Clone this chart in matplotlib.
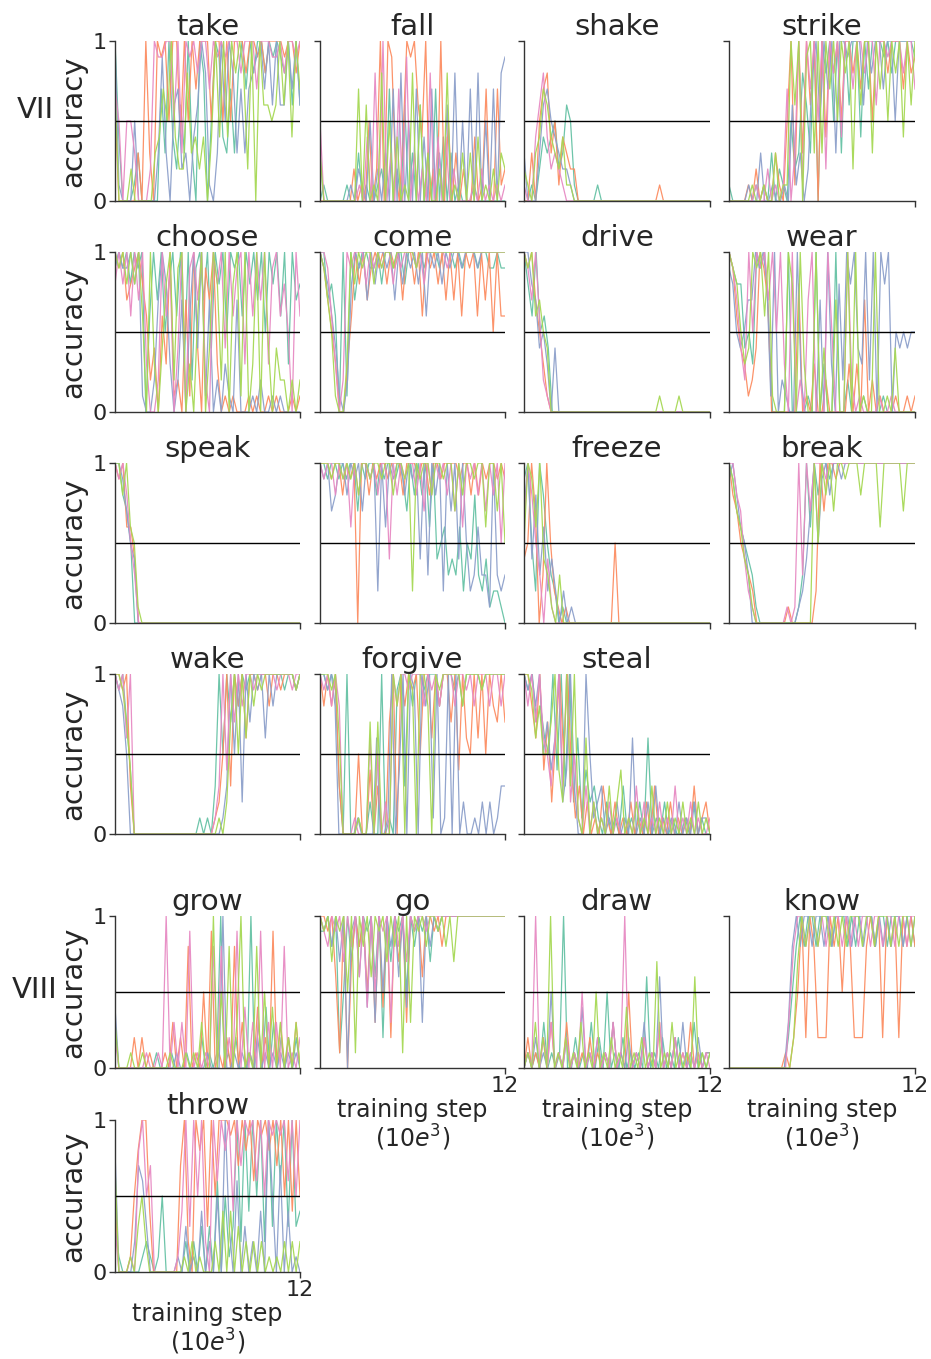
"""Per-verb accuracy curves over training, five seeds per verb."""

import matplotlib

matplotlib.use("Agg")
import matplotlib.pyplot as plt
import numpy as np

# Accuracy per seed, one character per checkpoint, in tenths ("a" = 1.0).
TAKE = [
    "a4000130000073a4263a30a805a943738a7a8aa8a9a98a6a6",
    "60000030a30a9a5aa4a5a7aaa5aa5a5aaa8aa9a8aaaa9aa8a",
    "a100050000039306723046a8103a5a8373789a7a6a66a7a6",
    "7505530002a99aa5a3a9a8aa7a9a9aaa8aaa7aaa99a8aa9a",
    "70002000003475a4228342404a4a4a8a82a0a6656a6a4a7",
]
FALL = [
    "0100000100301001207020603060307040301000100000000",
    "0000000002010502a0a9204a9a64a020a05030200401700712",
    "3000000010210502030708050704070306080507080507089",
    "5000000000104080a0307090302080404020000102010101",
    "3000000000706010805040108060300208010303040102032",
]
SHAKE = [
    "0010243452365100000100000000000000000000000000000",
    "0030578351432200000000000000000000010000000000000",
    "3000367543221000000000000000000000000000000000000",
    "1004684232100000000000000000000000000000000000000",
    "2103476432411000000000000000000000000000000000000",
]
STRIKE = [
    "1000000101030210523863a0a8a5a3a6aa4a7aaa9a8aaaaa9",
    "0000010201003105a1a3a6a0a4a8a5aa8a7aa5aaa8aaa7a89",
    "0000010030010010613028a5a7a3aa9aaa6a8aa7aa5aaaaa",
    "000000010020101703a1a7a5a2a8a4aa7aa8aa6aa9aaa8aa7",
    "0000001001003011a6a09a3a3a7a5a8a2a6aa3a7a5a8a4a6a",
]
CHOOSE = [
    "9a9a8a9a06a7a58a6a3a29a7a4a8a5a9a6a8a7a5a8a6a3a78",
    "a9a789a8624063a12071a4097a3010100010100101000101",
    "9a99a8a10027a8302706a4a1702031070001020010100000",
    "8a8a6a7a3002a6904a09a7a20a8a4a69a3a6a7a39a6850a6",
    "a9a8a8a60a3048a29a0306a04a82a08a1a03a0a404220202",
]
COME = [
    "aa7860a1a79aa99a8aa9aa8aa9a9aaa9aaa9a9aaa9aa99a99",
    "a97530036a8a79a9a8a9a7aa8a6a9a8a7a7a6a9a6a7a5a66",
    "a98641028a9a7a8aa9a7a8a9a8a6a9a8a9aa9aaa9aaaaaaa",
    "aa96302a9aaa8a9a9aa8a9aaa9a8aaaaa9aaaaaaaaaaaaaaa",
    "a9751003a8a9aa8a9aa9aaaaa9aaaaaaaaaaaaaaaaaaaaaaa",
]
DRIVE = [
    "a86a5640000000000000000000000000000000000000000",
    "a9a7531000000000000000000000000000000000000000000",
    "aa87453040000000000000000000000000000000000000000",
    "a97a621000000000000000000000000000000000000000000",
    "a9a6754000000000000000000000000000010000100000000",
]
WEAR = [
    "a988453a9a60000a000010a0300a00200010000100000000",
    "a9643124a9700000008010300200000303070201000100101",
    "9854577a9a81a02100a2000070a3082a8a43a2a0a8a0545455",
    "a9742a5a9a7a5a30a0207a000a5000a20100001001000000",
    "a98534a9a6a1000a80a300a0400700a0a0100a0010400000",
]
SPEAK = [
    "aa8750000000000000000000000000000000000000000000",
    "a9a664000000000000000000000000000000000000000000",
    "aa97540000000000000000000000000000000000000000000",
    "a9a853000000000000000000000000000000000000000000",
    "aa8a651000000000000000000000000000000000000000000",
]
TEAR = [
    "aa9aa9a9aa7a9aa8a9aa9a97a8a8a6a4563436254832412210",
    "aaa9aa8a9a0aa8a9aa9aaa8aaa9aa8aa9aaaa9aa8a8a9aa9a9",
    "a9a78aa8a9a7a9a2a6a9aa8a9a4a3a8a2a7a4a5236331a323",
    "a9aa8a9a6a8aa9a8aa4a8a9aa8a7a8a9a8a7a6a9a8a7a8a5a",
    "aaa9aa9a9a8aa9aa9aa8aa9a2a9aa8aa9aa7a8aa9aa6aa7a5",
]
FREEZE = [
    "9a52a85320100000000000000000000000000000000000000",
    "45a703a5210100000000000050000000000000000000000000",
    "7a4836242020100000000000000000000000000000000000",
    "6a8530410000000000000000000000000000000000000000",
    "5a96a4310300000000000000000000000000000000000000",
]
BREAK = [
    "a9765431000000000013a6a8aa9aaaaaaaaaaaaaaaaaaaaaa",
    "a8754320000000010000002a7aa9aaaaaaaaaaaaaaaaaaaa",
    "9a86530000000000001247a59a8aa9aaaaaaaaaaaaaaaaaaa",
    "aa8742100000000101a3a7aaa9aaaaaaaaaaaaaaaaaaaaaaa",
    "a976431000000000000000a5a8a7aa9aaa8aaaa6aaaaa7aaa",
]
WAKE = [
    "a9a740000000000000000010103a5a7a8a9aaaaaaaaa9aa9a",
    "aa9a3000000000000000000000125a3a8a6aa9aa8aa9aaa9a",
    "a98500000000000000000000000013a5a2a7a9a6a8aaaaa9a",
    "a9a6a00000000000000000000013a4a7a8aa9aaaaa9aaa9aa",
    "aa97400000000000000000000001027a5a6a8a9aaaaaaaa9a",
]
FORGIVE = [
    "aa9a930a00100200a0109a3a8aa9aaa8aaa9a8aaaa9aaaaaa",
    "a8a8a30000500403007a0a8a9a5aa6a8aa7a4a65a6a5a87a7",
    "aa9a800000100006001a04a0a90a8a1a01a0a0200102020133",
    "a9a8a80001000605020a8aa9aaa8a9a8aaa8aa9a8aaa8aa8a",
    "aaa9a60000100707000a8a0a90aa80a9aaaaa8aaaa9aaaaaa",
]
STEAL = [
    "a9a7865a4a3a2614231020103010206010201001020100",
    "aa86a4726a5a413020103102010201020301020101030120",
    "a9a8a5746a24a300a51230102010601020301010201020110",
    "a8a7a6536a3a2510302010201001030201020103010201001",
    "aa968557a42a3a10602010302401020103010201020102010",
]
GROW = [
    "3000000000010001000100020101a0102000a0304030202020",
    "0000020201000103020801050901020803010402090302030",
    "4000000000000000100000001000a00101010201010101010",
    "2000000010010a0303090101080802090403090303080102",
    "3000100100000010001010300a050803a010805040302030",
]
GO = [
    "99a8a15a7a8a9a6a2a7a9a5a8a9a7a9aaaaaaaaaaaaaaaaa",
    "aa9a61a07a8a5a3a4a2a7a3a9a6aa9a8aaaaaaaaaaaaaaaa",
    "a9a8a7a09a6a4a3a5a8a6a4a9a3a8a9aaaaaaaaaaaaaaaaa",
    "a98a9a7a8a6a4a5a9a3a8a7a9aa9aaaaaaaaaaaaaaaaaaaa",
    "a9a7a9a5a1a8a6a9a7a8a1a3a9a8aa9a8a7aaaaaaaaaaaaa",
]
DRAW = [
    "0101030101a0020103020501020101060102010201030101",
    "0201020301030101020101030105010201030102010301011",
    "0102010501020104010201030102010301060102030102011",
    "010a0203010201050102010301a0010201030102010101010",
    "0103020a010201030105010201040102010701030101060101",
]
KNOW = [
    "000000000000000258a8aa8aaa8aaa8a8aaaa8aa8aaa8aa8",
    "000000000000001025a2a8222a8a5a82228a8a2a8a2a8a8",
    "00000000000000038a8aa8aa8a8aaaa8aa8aa8a8a8aa8a8a",
    "00000000000000048aa8aa8a8aaa8a8a8aa8aa8aa8aa8aa",
    "000000000000000027a8aa8aa8a8a8aaa8aa8aaa8a8aa8a",
]
THROW = [
    "3100000121015000002020303060513a2a4a5a2a3a6a3a34",
    "5000158aa400000007a20a8a3a5aaa9a7a8a6a9a8a7a5a4a5",
    "8000027630000000103010402050a3060302040a50704010",
    "3000108a5700000014a3a5a20a6a8a4a7a9a6a5a9a9a6a5a",
    "7000103520000000001020100020404030202020101020202",
]

# (title, data, row, col); rows 0-3 are group VII, rows 4-5 group VIII
PANELS = [
    ("take", TAKE, 0, 0), ("fall", FALL, 0, 1), ("shake", SHAKE, 0, 2), ("strike", STRIKE, 0, 3),
    ("choose", CHOOSE, 1, 0), ("come", COME, 1, 1), ("drive", DRIVE, 1, 2), ("wear", WEAR, 1, 3),
    ("speak", SPEAK, 2, 0), ("tear", TEAR, 2, 1), ("freeze", FREEZE, 2, 2), ("break", BREAK, 2, 3),
    ("wake", WAKE, 3, 0), ("forgive", FORGIVE, 3, 1), ("steal", STEAL, 3, 2),
    ("grow", GROW, 4, 0), ("go", GO, 4, 1), ("draw", DRAW, 4, 2), ("know", KNOW, 4, 3),
    ("throw", THROW, 5, 0),
]
BOTTOM_ROW = {"go", "draw", "know", "throw"}

COLORS = ["#66c2a5", "#fc8d62", "#8da0cb", "#e78ac3", "#a6d854"]
TEXT = "#262626"
MAX_STEP = 12

# pixel boxes of the grid
COL_X = [(115, 300), (320, 505), (524, 710), (729, 915)]
ROW_Y = [(41, 201), (252, 412), (463, 623), (674, 834), (916, 1068), (1120, 1272)]
W, H = 931, 1359


def decode(s):
    return np.array([1.0 if c == "a" else int(c) / 10.0 for c in s])


plt.rcParams["font.family"] = "DejaVu Sans"
plt.rcParams["mathtext.fontset"] = "dejavusans"

fig = plt.figure(figsize=(W / 100, H / 100), dpi=100)

for title, series, row, col in PANELS:
    x0, x1 = COL_X[col]
    y0, y1 = ROW_Y[row]
    ax = fig.add_axes([x0 / W, 1 - y1 / H, (x1 - x0) / W, (y1 - y0) / H])
    for s, color in zip(series, COLORS):
        vals = decode(s)
        steps = np.linspace(0, MAX_STEP, len(vals))
        ax.plot(steps, vals, color=color, lw=0.9, alpha=0.95)
    ax.axhline(0.5, color="black", lw=1.0)

    ax.set_xlim(0, MAX_STEP)
    ax.set_ylim(0, 1)
    ax.set_xticks([MAX_STEP])
    ax.set_yticks([0, 1])
    for side in ("top", "right"):
        ax.spines[side].set_visible(False)
    for side in ("left", "bottom"):
        ax.spines[side].set_color("#333333")
        ax.spines[side].set_linewidth(1.0)
    ax.tick_params(length=4, width=1, color="#333333", labelcolor=TEXT, labelsize=16, pad=2)
    ax.set_title(title, fontsize=21, color=TEXT, pad=3)

    if col == 0:
        ax.set_yticklabels(["0", "1"])
        ax.set_ylabel("accuracy", fontsize=21, color=TEXT, labelpad=4)
    else:
        ax.tick_params(labelleft=False)

    if title in BOTTOM_ROW:
        ax.set_xticklabels(["12"])
        ax.set_xlabel("training step\n(10$e^3$)", fontsize=17, color=TEXT,
                      labelpad=1, linespacing=1.05)
    else:
        ax.tick_params(labelbottom=False)

fig.text(35 / W, 1 - 110 / H, "VII", fontsize=21, color=TEXT, ha="center", va="center")
fig.text(35 / W, 1 - 990 / H, "VIII", fontsize=21, color=TEXT, ha="center", va="center")

fig.savefig("out.png", dpi=100)
